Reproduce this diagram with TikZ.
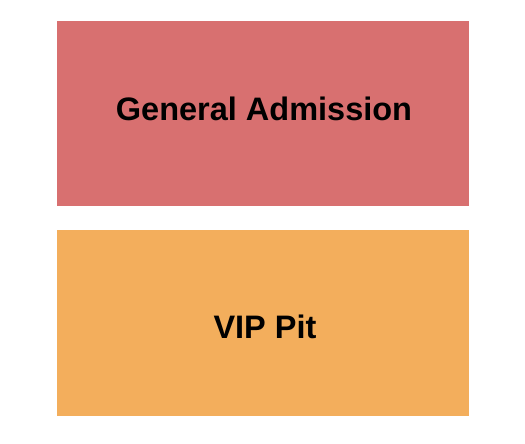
\documentclass[tikz,border=0pt]{standalone}
\usepackage{fontspec}
\setmainfont{Liberation Sans}
\definecolor{gacol}{RGB}{216,112,112}
\definecolor{vipcol}{RGB}{243,174,92}
\begin{document}
\begin{tikzpicture}[x=1pt,y=-1pt,
  sect/.style={draw=none,inner sep=0pt,anchor=north west},
  lbl/.style={anchor=base,inner sep=0pt,font=\fontsize{32.5}{36}\selectfont\bfseries,text=black}]
\useasboundingbox (0,0) rectangle (525,444);
\fill[white] (0,0) rectangle (525,444);
\node[sect,fill=gacol,minimum width=412pt,minimum height=185pt] (ga) at (57,21) {};
\node[sect,fill=vipcol,minimum width=412pt,minimum height=186pt] (vip) at (57,230) {};
\node[lbl] (galbl) at (264,121) {General Admission};
\node[lbl] (viplbl) at (265,338) {VIP Pit};
\end{tikzpicture}
\end{document}
